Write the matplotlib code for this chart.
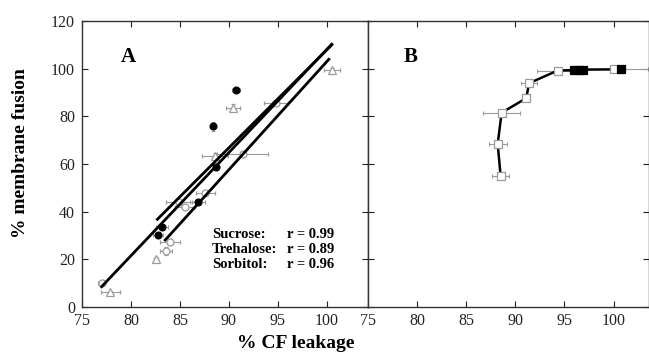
import matplotlib
matplotlib.use("Agg")
import matplotlib.pyplot as plt
import numpy as np

plt.rcParams['font.family'] = ['Liberation Serif', 'DejaVu Serif']

# ---- Panel A data ----
suc_x = [90.7, 88.4, 88.7, 86.8, 83.2, 82.8]
suc_y = [91.0, 75.8, 58.9, 43.9, 33.7, 30.2]
suc_xerr = [0.4, 0.3, 0.3, 0.8, 0.6, 0.5]
suc_yerr = [0.8, 2.0, 0.8, 0.8, 0.8, 0.8]

tre_x = [100.5, 90.4, 88.6, 82.6, 77.9]
tre_y = [99.6, 83.6, 63.5, 20.0, 6.2]
tre_xerr = [0.8, 0.7, 1.3, 0.2, 1.0]
tre_yerr = [0.8, 1.5, 1.0, 0.5, 0.5]

sor_x = [94.8, 91.4, 87.6, 84.9, 85.5, 84.0, 83.6, 77.0]
sor_y = [85.5, 64.2, 47.7, 44.2, 42.1, 27.4, 23.5, 10.2]
sor_xerr = [1.2, 2.6, 1.0, 1.3, 1.0, 1.0, 0.6, 0.4]
sor_yerr = [0.8, 0.8, 0.8, 0.8, 0.8, 1.0, 1.5, 1.0]

# regression lines: slope, intercept, x range
reg_slope = [4.33, 4.11, 4.54]
reg_icpt = [-324.9, -303.1, -351.0]
reg_x0 = [77.0, 82.7, 83.5]
reg_x1 = [100.5, 100.5, 100.2]

stats_names = ['Sucrose:', 'Trehalose:', 'Sorbitol:']
stats_r = ['r = 0.99', 'r = 0.89', 'r = 0.96']

# ---- Panel B data ----
b_x = [88.5, 88.2, 88.6, 91.1, 91.4, 94.3, 96.0, 96.5, 96.9, 100.0, 100.7]
b_y = [55.0, 68.4, 81.5, 87.6, 93.9, 99.2, 99.4, 99.6, 99.6, 99.7, 99.7]
b_xerr = [0.9, 0.9, 1.9, 0.3, 0.8, 2.1, 0.3, 0.3, 0.3, 3.5, 0.3]
b_filled = [False, False, False, False, False, False, True, True, True, False, True]

xticks = [75, 80, 85, 90, 95, 100]
yticks = [0, 20, 40, 60, 80, 100, 120]

fig = plt.figure(figsize=(6.49, 3.62), dpi=100)
axA = fig.add_axes([0.1263, 0.152, 0.567 - 0.1263, 0.79])
axB = fig.add_axes([0.567, 0.152, 0.433, 0.79])

gray = '#9a9a9a'
for ax in (axA, axB):
    ax.set_ylim(0, 120)
    ax.set_xticks(xticks)
    ax.set_yticks(yticks)
    ax.tick_params(direction='in', top=True, right=True, length=4, width=0.8,
                   labelsize=11.5, colors='#222')
    ax.tick_params(axis='x', pad=4)
    ax.tick_params(axis='y', pad=5)
    for s in ax.spines.values():
        s.set_linewidth(1.0)
        s.set_color('#333')

axA.set_xlim(75, 104.2)
axB.set_xlim(75, 103.6)
axB.tick_params(labelleft=False)

ekw = dict(ecolor=gray, elinewidth=0.8, capsize=1.5, capthick=0.8, linestyle='none', zorder=2)
axA.errorbar(sor_x, sor_y, xerr=sor_xerr, yerr=sor_yerr, marker='o', ms=5,
             mfc='white', mec=gray, mew=0.9, **ekw)
axA.errorbar(tre_x, tre_y, xerr=tre_xerr, yerr=tre_yerr, marker='^', ms=5.5,
             mfc='white', mec=gray, mew=0.9, **ekw)
axA.errorbar(suc_x, suc_y, xerr=suc_xerr, yerr=suc_yerr, marker='o', ms=5,
             mfc='black', mec='black', mew=0.8, **ekw)

for m, b, x0, x1 in zip(reg_slope, reg_icpt, reg_x0, reg_x1):
    xs = np.array([x0, x1])
    axA.plot(xs, m * xs + b, color='black', lw=2.0, zorder=3)

axA.text(79.7, 105, 'A', fontsize=15, fontweight='bold', ha='center', va='center')
for i, (n, r) in enumerate(zip(stats_names, stats_r)):
    yy = 30.6 - i * 6.3
    axA.text(88.3, yy, n, fontsize=10.5, fontweight='bold', ha='left', va='center')
    axA.text(95.9, yy, r, fontsize=10.5, fontweight='bold', ha='left', va='center')

# Panel B
axB.plot(b_x, b_y, color='black', lw=1.8, zorder=3)
axB.errorbar(b_x, b_y, xerr=b_xerr, linestyle='none', marker=None, ecolor=gray,
             elinewidth=0.8, capsize=1.5, capthick=0.8, zorder=2)
for x, y, f in zip(b_x, b_y, b_filled):
    axB.plot([x], [y], marker='s', ms=5.5, mfc='black' if f else 'white',
             mec='black' if f else gray, mew=0.9, linestyle='none', zorder=4)
axB.text(79.3, 105, 'B', fontsize=15, fontweight='bold', ha='center', va='center')

fig.text(0.031, 0.577, '% membrane fusion', rotation=90, fontsize=14,
         fontweight='bold', ha='center', va='center')
fig.text(0.456, 0.052, '% CF leakage', fontsize=14, fontweight='bold', ha='center', va='center')

fig.savefig('out.png', dpi=100)
